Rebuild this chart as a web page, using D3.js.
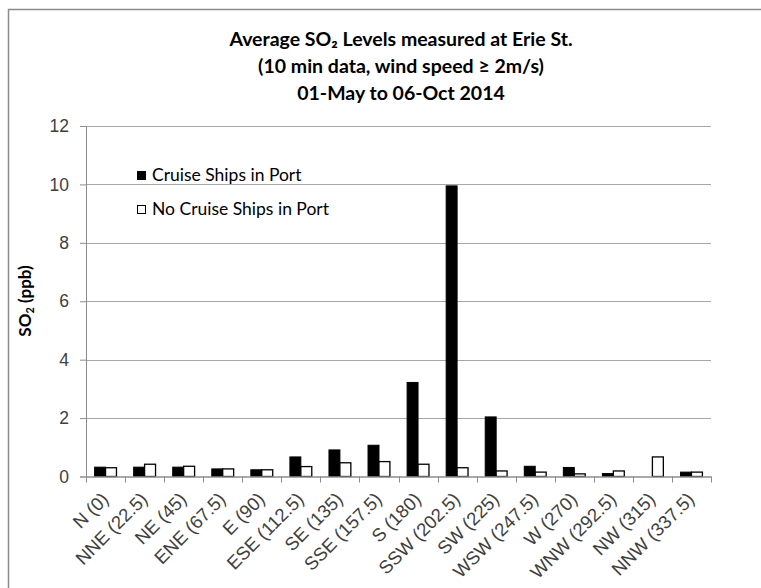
<!DOCTYPE html>
<html>
<head>
<meta charset="utf-8">
<script src="https://cdn.jsdelivr.net/npm/d3@7"></script>
<style>
  body { margin: 0; background: #fff; }
  svg { font-family: Lato, "Open Sans", sans-serif; }
</style>
</head>
<body>
<script>
// wind direction categories
var directions = ["N (0)", "NNE (22.5)", "NE (45)", "ENE (67.5)", "E (90)", "ESE (112.5)",
  "SE (135)", "SSE (157.5)", "S (180)", "SSW (202.5)", "SW (225)", "WSW (247.5)",
  "W (270)", "WNW (292.5)", "NW (315)", "NNW (337.5)"];

// average SO2 (ppb)
var cruiseIn = [0.32, 0.32, 0.32, 0.26, 0.23, 0.67, 0.91, 1.07, 3.22, 9.95, 2.04, 0.35, 0.31, 0.10, 0, 0.15];
var noCruise = [0.30, 0.42, 0.35, 0.26, 0.23, 0.34, 0.47, 0.51, 0.42, 0.30, 0.19, 0.15, 0.09, 0.19, 0.67, 0.15];

var seriesNames = ["Cruise Ships in Port", "No Cruise Ships in Port"];
var yTicks = [0, 2, 4, 6, 8, 10, 12];

var titleLines = ["Average SO\u2082 Levels measured at Erie St.",
  "(10 min data, wind speed \u2265 2m/s)",
  "01-May to 06-Oct 2014"];

var W = 761, H = 588;
var margin = {top: 126, right: 50, bottom: 111.5, left: 86},
    width = W - margin.left - margin.right,
    height = H - margin.top - margin.bottom;

var svg = d3.select("body").append("svg")
    .attr("width", W)
    .attr("height", H);

// outer chart border
svg.append("rect")
    .attr("x", 8.5).attr("y", 9.5)
    .attr("width", W + 10).attr("height", H + 10)
    .attr("fill", "none")
    .attr("stroke", "#8c8c8c")
    .attr("stroke-width", 1.5);

var g = svg.append("g")
    .attr("transform", "translate(" + margin.left + "," + margin.top + ")");

var x = d3.scaleBand().domain(directions).range([0, width]);
var y = d3.scaleLinear().domain([0, 12]).range([height, 0]);

// gridlines
g.selectAll(".grid")
    .data(yTicks.slice(1))
  .enter().append("line")
    .attr("x1", 0).attr("x2", width)
    .attr("y1", function(d) { return Math.round(y(d)) + 0.5; })
    .attr("y2", function(d) { return Math.round(y(d)) + 0.5; })
    .attr("stroke", "#a6a6a6")
    .attr("stroke-width", 1.2);

// y axis
var yAxis = g.append("g")
    .call(d3.axisLeft(y).tickValues(yTicks).tickSize(6).tickPadding(11).tickFormat(d3.format("d")));
yAxis.select(".domain").attr("stroke", "#8c8c8c");
yAxis.selectAll(".tick line").attr("stroke", "#8c8c8c");
yAxis.selectAll("text")
    .attr("fill", "#404040")
    .style("font-size", "17.5px");

// bars
var barW = x.bandwidth() * 0.28;
var bars = g.selectAll(".pair")
    .data(directions)
  .enter().append("g")
    .attr("transform", function(d) { return "translate(" + (x(d) + x.bandwidth() / 2) + ",0)"; });

bars.append("rect")
    .attr("x", -barW)
    .attr("width", barW)
    .attr("y", function(d, i) { return y(cruiseIn[i]); })
    .attr("height", function(d, i) { return height - y(cruiseIn[i]); })
    .attr("fill", "#000")
    .attr("stroke", "#000")
    .attr("stroke-width", 1)
    .style("display", function(d, i) { return cruiseIn[i] > 0 ? null : "none"; });

bars.append("rect")
    .attr("x", 0)
    .attr("width", barW)
    .attr("y", function(d, i) { return y(noCruise[i]); })
    .attr("height", function(d, i) { return height - y(noCruise[i]); })
    .attr("fill", "#fff")
    .attr("stroke", "#000")
    .attr("stroke-width", 1.3);

// x axis
var xAxis = g.append("g")
    .attr("transform", "translate(0," + height + ")")
    .call(d3.axisBottom(x).tickSize(0));
xAxis.select(".domain").attr("stroke", "#8c8c8c").attr("stroke-width", 1.3);
xAxis.selectAll("text")
    .attr("fill", "#404040")
    .style("font-size", "18.5px")
    .style("text-anchor", "end")
    .attr("x", 0).attr("y", 0).attr("dy", 0)
    .attr("transform", "translate(4,24) rotate(-45)");

// boundary ticks between categories
g.selectAll(".xtick")
    .data(directions.concat(["end"]))
  .enter().append("line")
    .attr("x1", function(d, i) { return Math.round(i * x.bandwidth()) + 0.5; })
    .attr("x2", function(d, i) { return Math.round(i * x.bandwidth()) + 0.5; })
    .attr("y1", height).attr("y2", height + 6)
    .attr("stroke", "#8c8c8c");

// y axis label
svg.append("text")
    .attr("transform", "translate(31,301) rotate(-90)")
    .style("text-anchor", "middle")
    .style("font-size", "17px")
    .style("font-weight", "bold")
    .html("SO<tspan font-size='11px' dy='3'>2</tspan><tspan dy='-3'> (ppb)</tspan>");

// title
svg.selectAll(".title")
    .data(titleLines)
  .enter().append("text")
    .attr("x", 401)
    .attr("y", function(d, i) { return 46 + i * 27; })
    .style("text-anchor", "middle")
    .style("font-size", "19.5px")
    .style("font-weight", "bold")
    .text(function(d) { return d; });

// legend
var legend = svg.selectAll(".legend")
    .data(seriesNames)
  .enter().append("g")
    .attr("transform", function(d, i) { return "translate(137," + (171 + i * 34) + ")"; });

legend.append("rect")
    .attr("x", 0.5).attr("y", 0.5)
    .attr("width", 8).attr("height", 8)
    .attr("fill", function(d, i) { return i === 0 ? "#000" : "#fff"; })
    .attr("stroke", "#000");

legend.append("text")
    .attr("x", 15)
    .attr("y", 10)
    .style("font-size", "17.5px")
    .attr("fill", "#000")
    .text(function(d) { return d; });
</script>
</body>
</html>
